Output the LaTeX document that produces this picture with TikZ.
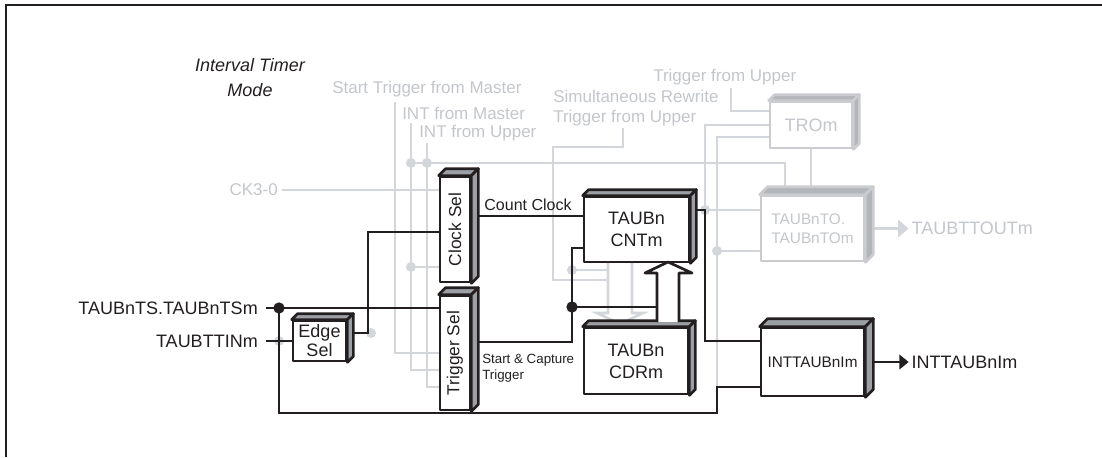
\documentclass[tikz,border=0pt]{standalone}
\usepackage{fontspec}
\setmainfont{Liberation Sans}
\usetikzlibrary{arrows.meta, positioning, calc, fit, backgrounds}
\definecolor{ink}{HTML}{231F20}
\definecolor{cface}{HTML}{9C9FA4}
\definecolor{gline}{HTML}{D3D6DA}
\definecolor{gtext}{HTML}{C3C6CA}
\definecolor{gedge}{HTML}{CACCCF}
\definecolor{gface}{HTML}{B2B5B9}
\tikzset{
  every picture/.style={line join=round, text=ink},
  unit/.style={draw=ink, fill=white, line width=2pt, inner sep=0pt},
  ghostunit/.style={unit, draw=gedge},
  blkface/.style={fill=cface, draw=ink, line width=2pt},
  ghostface/.style={fill=gface, draw=gedge, line width=2pt},
  wire/.style={draw=ink, line width=1.5pt},
  ghostwire/.style={draw=gline, line width=2pt},
  hollow/.style={draw=ink, fill=white, line width=2pt},
  ghosthollow/.style={draw=gline, fill=white, line width=2pt},
  sig/.style={-{Triangle[length=7pt, width=11pt]}},
  ghostsig/.style={-{Triangle[length=8pt, width=13pt]}},
  jdot/.style={circle, fill=ink, inner sep=0pt, minimum size=8.5pt},
  gdot/.style={circle, fill=gline, inner sep=0pt, minimum size=7.5pt},
  lbl/.style={inner sep=0pt, align=center, font=\fontsize{13.5pt}{16.5pt}\selectfont},
  ghostlbl/.style={inner sep=0pt, text=gtext, font=\fontsize{12.75pt}{14.5pt}\selectfont},
  clklbl/.style={inner sep=0pt, font=\fontsize{12pt}{14pt}\selectfont},
  capnote/.style={inner sep=0pt, align=left, font=\fontsize{10pt}{12pt}\selectfont},
}
% top and right faces of a block: node, depth, face style
\newcommand\unitdepth[3]{%
  \filldraw[#3] (#1.north west) -- ++(#2,-#2) -- ($(#1.north east)+(#2,-#2)$) -- (#1.north east) -- cycle;
  \filldraw[#3] (#1.north east) -- ($(#1.north east)+(#2,-#2)$) -- ($(#1.south east)+(#2,-#2)$) -- (#1.south east) -- cycle;
}
\begin{document}
\begin{tikzpicture}[x=0.75pt, y=-0.75pt]
  \useasboundingbox (0,0) rectangle (1102,457);
  % frame, only top and left edges in view
  \draw[ink, line width=2.2pt, line join=miter] (6,457) -- (6,5) -- (1102,5);
  \node[lbl, font=\itshape\fontsize{13.5pt}{18.75pt}\selectfont] (mode) at (250,78) {Interval Timer\\Mode};
  % blocks
  \node[unit, fit={(440,177) (470,282)}] (clksel) {};
  \unitdepth{clksel}{7}{blkface}
  \node[lbl, rotate=90, font=\fontsize{13pt}{15pt}\selectfont] (clktxt) at (clksel.center) {Clock Sel};
  \node[unit, fit={(440,296) (470,410)}] (trgsel) {};
  \unitdepth{trgsel}{7}{blkface}
  \node[lbl, rotate=90, font=\fontsize{13pt}{15pt}\selectfont] (trgtxt) at (trgsel.center) {Trigger Sel};
  \node[unit, fit={(293,321) (346,361)}] (edgesel) {};
  \unitdepth{edgesel}{6}{blkface}
  \node[lbl, font=\fontsize{13.5pt}{14.25pt}\selectfont] (edgetxt) at (edgesel.center) {Edge\\Sel};
  \node[unit, fit={(584,197) (689,262)}] (cnt) {};
  \unitdepth{cnt}{6}{blkface}
  \node[lbl] (cnttxt) at (cnt.center) {TAUBn\\CNTm};
  \node[unit, fit={(584,328) (688,394)}] (cdr) {};
  \unitdepth{cdr}{6}{blkface}
  \node[lbl] (cdrtxt) at (cdr.center) {TAUBn\\CDRm};
  \node[unit, fit={(761,328) (864,396)}] (intunit) {};
  \unitdepth{intunit}{8}{blkface}
  \node[lbl, font=\fontsize{11.5pt}{13pt}\selectfont] (inttxt) at (intunit.center) {INTTAUBnIm};
  \node[ghostunit, fit={(770,102) (852,148)}] (trom) {};
  \unitdepth{trom}{6}{ghostface}
  \node[lbl, text=gtext] (tromtxt) at (trom.center) {TROm};
  \node[ghostunit, fit={(761,196) (864,261)}] (tounit) {};
  \unitdepth{tounit}{8}{ghostface}
  \node[lbl, text=gtext, align=left, font=\fontsize{11.5pt}{14.25pt}\selectfont] (totxt) at (tounit.center) {TAUBnTO.\\TAUBnTOm};
  % labels
  \node[ghostlbl, anchor=west] (stm) at (332,89) {Start Trigger from Master};
  \node[ghostlbl, anchor=west] (itm) at (402,113) {INT from Master};
  \node[ghostlbl, anchor=west] (itu) at (419,133) {INT from Upper};
  \node[ghostlbl, anchor=west, align=left] (sim) at (553,108) {Simultaneous Rewrite\\Trigger from Upper};
  \node[ghostlbl, anchor=west] (tfu) at (653,77) {Trigger from Upper};
  \node[ghostlbl, anchor=east] (ckl) at (278,190) {CK3-0};
  \node[lbl, anchor=east] (tsl) at (258,308) {TAUBnTS.TAUBnTSm};
  \node[lbl, anchor=east] (ttl) at (258,341) {TAUBTTINm};
  \node[clklbl] (cclbl) at (528,205) {Count Clock};
  \node[capnote, anchor=west] (sclbl) at (482,368) {Start \& Capture\\Trigger};
  \node[lbl, anchor=west] (intout) at ($(intunit.east)+(46,0)$) {INTTAUBnIm};
  \node[ghostlbl, anchor=west, font=\fontsize{13.5pt}{16pt}\selectfont] (tout) at ($(tounit.east)+(46,0)$) {TAUBTTOUTm};
  \coordinate[right=3pt of ckl] (ckIn);
  \coordinate[right=6pt of tsl] (tsIn);
  \coordinate[right=6pt of ttl] (ttIn);
  % ports and junctions
  \coordinate (gS) at (395,102);
  \coordinate (gM) at (411,123);
  \coordinate (gU) at (427,143);
  \coordinate (tA) at (440,353);
  \coordinate (tB) at (440,370);
  \coordinate (tC) at (440,387);
  \coordinate (jM) at (411,163);
  \coordinate (jU) at (427,163);
  \coordinate (jC) at (411,267);
  \coordinate (pTo) at (785,196);
  \coordinate (gSim) at (623,128);
  \coordinate (sRw) at (608,280);
  \coordinate (jCp) at (572,270);
  \coordinate (sCp) at (608,270);
  \coordinate (gTfu) at (731,88);
  \coordinate (rT1) at (770,111);
  \coordinate (rT2) at (770,125);
  \coordinate (rT3) at (770,137);
  \coordinate (jTo) at (705,210);
  \coordinate (jTo2) at (717,251);
  \coordinate (jInt) at (717,387);
  \coordinate (jTs) at (279,308);
  \coordinate (eOut) at (368,333);
  \coordinate (pCs) at (440,232);
  \coordinate (pClk) at (584,216);
  \coordinate (pTrg) at (572,342);
  \coordinate (pCnt) at (584,248);
  \coordinate (jCap) at (572,307);
  \coordinate (pUp) at (657,307);
  \coordinate (pInt) at (761,341);
  \begin{scope}[on background layer]
    % greyed-out paths
    \draw[ghostwire] (ckIn) -- (clksel.west |- ckIn);
    \draw[ghostwire] (gS) |- (tA);
    \draw[ghostwire] (gM) |- (tB);
    \draw[ghostwire] (gU) |- (tC);
    \draw[ghostwire] (jM) -| (pTo);
    \draw[ghostwire] (jC) -- (clksel.west |- jC);
    \draw[ghostwire] (gSim) |- (553,147) |- (sRw);
    \draw[ghostwire] (jCp) -- (sCp);
    \draw[ghostwire] (gTfu) |- (rT1);
    \draw[ghostwire] (jTo) |- (rT2);
    \draw[ghostwire] (jTo) -- (tounit.west |- jTo);
    \draw[ghostwire] (jInt) |- (rT3);
    \draw[ghostwire] (jTo2) -- (tounit.west |- jTo2);
    \draw[ghostwire] (trom.south) -- (tounit.north -| trom.south);
    \draw[ghostwire, ghostsig] (tounit.east) -- ([xshift=-2pt]tout.west);
    \foreach \p/\n in {jM/gd1, jU/gd2, jC/gd3, jCp/gd4, jTo/gd5, jTo2/gd6}
      \node[gdot] (\n) at (\p) {};
    \node[gdot] (gd7) at (jTs |- ttl.east) {};
    \node[gdot] (gd8) at (371,333) {};
    \draw[ghosthollow] (608,262) -- (608,313) -- (597,313) -- (620,324) -- (643,313) -- (632,313) -- (632,262);
    % active paths
    \draw[wire] (tsIn) -- (trgsel.west |- tsIn);
    \draw[wire] (jTs) -- ++(0,105) -| (jInt) -- (intunit.west |- jInt);
    \draw[wire] (ttIn) -- (edgesel.west |- ttIn);
    \draw[wire] (edgesel.east |- eOut) -- (eOut) |- (pCs);
    \draw[wire] (clksel.east |- pClk) -- (pClk);
    \draw[wire] (trgsel.east |- pTrg) -- (pTrg) |- (pCnt);
    \draw[wire] (jCap) -- (pUp);
    \draw[wire] (cnt.east |- jTo) -- (jTo) |- (pInt);
    \draw[wire, sig] (intunit.east) -- ([xshift=-2pt]intout.west);
  \end{scope}
  % reload path CDRm -> CNTm
  \draw[hollow] (657,322) -- (657,273) -- (645,273) -- (668,262) -- (692,273) -- (679,273) -- (679,322);
  \node[jdot] (jd1) at (jTs) {};
  \node[jdot] (jd2) at (jCap) {};
\end{tikzpicture}
\end{document}
